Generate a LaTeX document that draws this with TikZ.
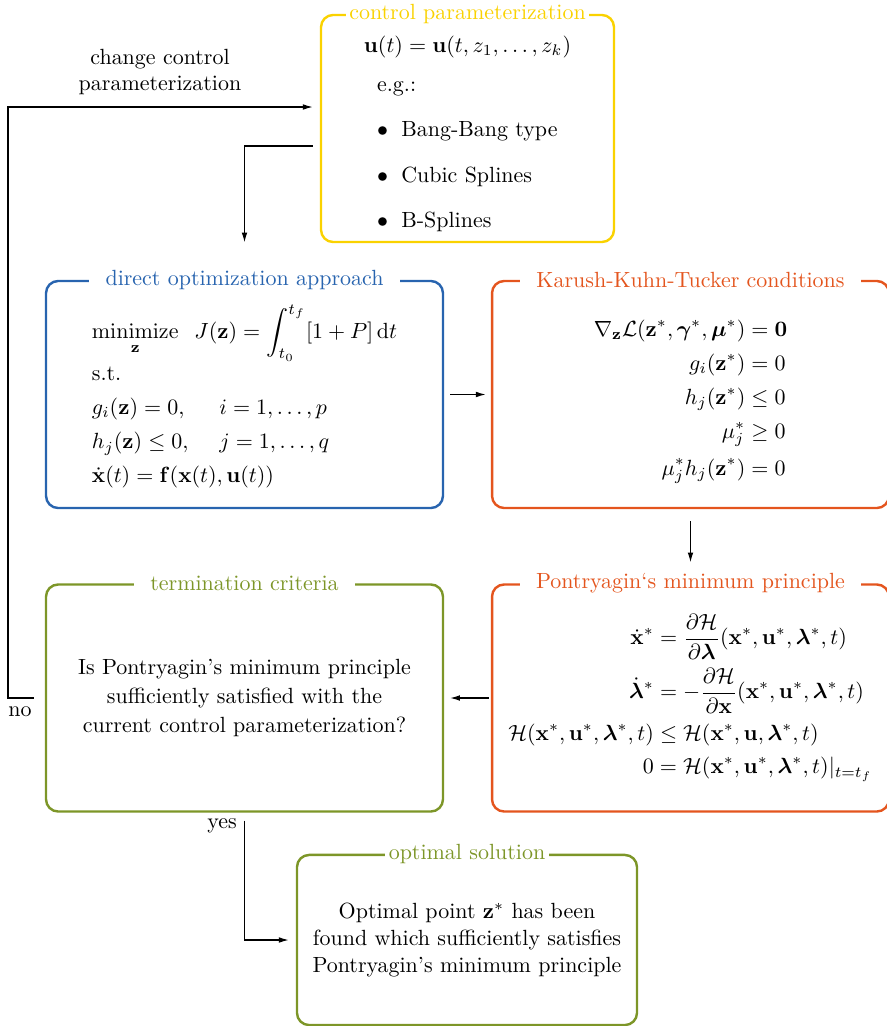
\documentclass[tikz,border=0pt]{standalone}
\usepackage{amsmath,bm}
\usetikzlibrary{arrows.meta}
\definecolor{ctrlyellow}{RGB}{250,210,0}
\definecolor{optblue}{RGB}{40,100,175}
\definecolor{kktorange}{RGB}{228,85,30}
\definecolor{termgreen}{RGB}{125,150,40}
% push a node's text down by half of #1
\newcommand{\lowerby}[2]{\raisebox{0pt}[\dimexpr\height+#1\relax]{#2}}
\begin{document}
\begin{tikzpicture}[x=0.455pt,y=-0.455pt]
  \tikzstyle{blockbox}=[draw,rounded corners=5.5pt,line width=1.1pt,minimum height=103.3pt,align=center,inner sep=0pt]
  \tikzstyle{blocktitle}=[fill=white,inner ysep=1pt,inner xsep=7.5pt]
  \tikzstyle{flow}=[-{Latex[length=4.5pt,width=2.6pt]},line width=0.55pt]
  \useasboundingbox (0,0) rectangle (886,1026);
  % boxes
  \node [blockbox,draw=ctrlyellow,minimum width=133.3pt] (ctrl) at (467.5,128.5) {%
    \lowerby{5.5pt}{\begin{tabular}{@{}l@{}}
      $\mathbf{u}(t)=\mathbf{u}(t,z_1,\dots,z_k)$\\[6pt]
      \hspace*{6pt}e.g.:\\[8.6pt]
      \hspace*{6pt}$\bullet$\hspace{6pt}Bang-Bang type\\[8.6pt]
      \hspace*{6pt}$\bullet$\hspace{6pt}Cubic Splines\\[8.6pt]
      \hspace*{6pt}$\bullet$\hspace{6pt}B-Splines
    \end{tabular}}};
  \node [blockbox,draw=optblue,minimum width=180.6pt] (direct) at (244.5,394.5) {%
    \lowerby{3pt}{\begin{tabular}{@{}l@{\hspace{14pt}}l@{}}
      \multicolumn{2}{@{}l@{}}{$\displaystyle\mathop{\mathrm{minimize}}\limits_{\mathbf{z}}\;\; J(\mathbf{z})=\int_{t_0}^{t_f}[1+P]\,\mathrm{d}t$}\\[7pt]
      s.t. & \\[3.5pt]
      $g_i(\mathbf{z})=0,$ & $i=1,\dots,p$\\[3.5pt]
      $h_j(\mathbf{z})\le 0,$ & $j=1,\dots,q$\\[3.5pt]
      \multicolumn{2}{@{}l@{}}{$\dot{\mathbf{x}}(t)=\mathbf{f}(\mathbf{x}(t),\mathbf{u}(t))$}
    \end{tabular}}};
  \node [blockbox,draw=kktorange,minimum width=180.6pt] (kkt) at (690.5,394.5) {%
    \lowerby{5.5pt}{$\begin{aligned}
      \nabla_{\mathbf{z}}\mathcal{L}(\mathbf{z}^*,\bm{\gamma}^*,\bm{\mu}^*) &= \mathbf{0}\\[0.5pt]
      g_i(\mathbf{z}^*) &= 0\\[0.5pt]
      h_j(\mathbf{z}^*) &\le 0\\[0.5pt]
      \mu_j^* &\ge 0\\[0.5pt]
      \mu_j^* h_j(\mathbf{z}^*) &= 0
    \end{aligned}$}};
  \node [blockbox,draw=termgreen,minimum width=180.6pt] (term) at (244.5,698) {%
    Is Pontryagin's minimum principle\\[1pt]
    sufficiently satisfied with the\\[1pt]
    current control parameterization?};
  \node [blockbox,draw=kktorange,minimum width=180.6pt] (pmp) at (690.5,698) {%
    $\begin{aligned}
      \dot{\mathbf{x}}^* &= \frac{\partial\mathcal{H}}{\partial\bm{\lambda}}(\mathbf{x}^*,\mathbf{u}^*,\bm{\lambda}^*,t)\\
      \dot{\bm{\lambda}}^* &= -\frac{\partial\mathcal{H}}{\partial\mathbf{x}}(\mathbf{x}^*,\mathbf{u}^*,\bm{\lambda}^*,t)\\
      \mathcal{H}(\mathbf{x}^*,\mathbf{u}^*,\bm{\lambda}^*,t) &\le \mathcal{H}(\mathbf{x}^*,\mathbf{u},\bm{\lambda}^*,t)\\
      0 &= \mathcal{H}(\mathbf{x}^*,\mathbf{u}^*,\bm{\lambda}^*,t)|_{t=t_f}
    \end{aligned}$};
  \node [blockbox,draw=termgreen,minimum width=154.7pt,minimum height=77.4pt] (opt) at (467,940) {%
    Optimal point $\mathbf{z}^*$ has been\\[0.5pt]
    found which sufficiently satisfies\\[0.5pt]
    Pontryagin's minimum principle};
  % titles
  \node [blocktitle,inner xsep=1.5pt,text=ctrlyellow] (ctrltitle) at (ctrl.north) {control parameterization};
  \node [blocktitle,text=optblue] (directtitle) at (direct.north) {direct optimization approach};
  \node [blocktitle,text=kktorange] (kkttitle) at (kkt.north) {Karush-Kuhn-Tucker conditions};
  \node [blocktitle,text=termgreen] (termtitle) at (term.north) {termination criteria};
  \node [blocktitle,text=kktorange] (pmptitle) at (pmp.north) {Pontryagin`s minimum principle};
  \node [blocktitle,inner xsep=1.5pt,text=termgreen] (opttitle) at (opt.north) {optimal solution};
  % labels
  \node [align=center] (changelabel) at (160,72) {change control\\parameterization};
  \node (nolabel) at (20,712) {no};
  \node (yeslabel) at (222,826) {yes};
  \coordinate (loop) at (8,107);
  % connectors
  \draw [flow] ([xshift=-5pt]term.west) -| (loop) -- ([xshift=-3.2pt]ctrl.west |- loop);
  \draw [flow] ([xshift=-3.2pt,yshift=-8pt]ctrl.west) -| ([yshift=17pt]direct.north);
  \draw [flow] ([xshift=2.7pt]direct.east) -- ([xshift=-2.3pt]kkt.west);
  \draw [flow] ([yshift=-5.5pt]kkt.south) -- ([yshift=9.5pt]pmp.north);
  \draw [flow] ([xshift=-1pt]pmp.west) -- ([xshift=2.7pt]term.east);
  \draw [flow] ([yshift=-3.6pt]term.south) |- ([xshift=-3.2pt]opt.west);
\end{tikzpicture}
\end{document}
